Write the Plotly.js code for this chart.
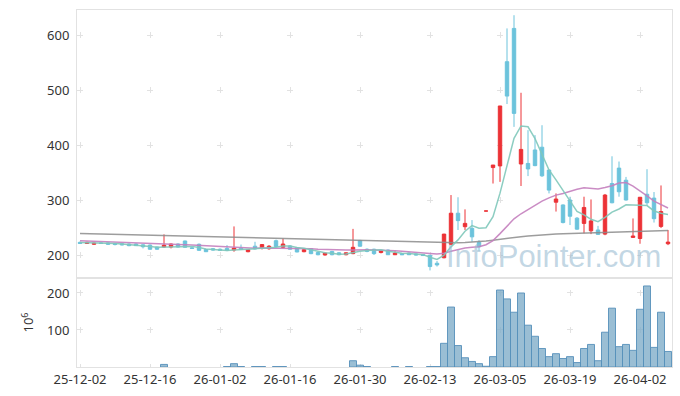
<!DOCTYPE html>
<html>
<head>
<meta charset="utf-8">
<script src="https://cdn.plot.ly/plotly-3.0.1.min.js"></script>
<style>html,body{margin:0;padding:0;background:#fff;}</style>
</head>
<body>
<div id="chart" style="width:680px;height:396px;"></div>
<script>
const dates = [
 '25-12-02','25-12-03','25-12-04','25-12-05','25-12-08','25-12-09','25-12-10','25-12-11','25-12-12','25-12-15',
 '25-12-16','25-12-17','25-12-18','25-12-19','25-12-22','25-12-23','25-12-24','25-12-26','25-12-29','25-12-30',
 '26-01-02','26-01-05','26-01-06','26-01-07','26-01-08','26-01-09','26-01-12','26-01-13','26-01-14','26-01-15',
 '26-01-16','26-01-19','26-01-20','26-01-21','26-01-22','26-01-23','26-01-26','26-01-27','26-01-28','26-01-29',
 '26-01-30','26-02-02','26-02-03','26-02-04','26-02-05','26-02-06','26-02-09','26-02-10','26-02-11','26-02-12',
 '26-02-13','26-02-19','26-02-20','26-02-23','26-02-24','26-02-25','26-02-26','26-02-27','26-03-03','26-03-04',
 '26-03-05','26-03-06','26-03-09','26-03-10','26-03-11','26-03-12','26-03-13','26-03-16','26-03-17','26-03-18',
 '26-03-19','26-03-20','26-03-23','26-03-24','26-03-25','26-03-26','26-03-27','26-03-30','26-03-31','26-04-01',
 '26-04-02','26-04-03','26-04-06','26-04-07','26-04-08'];

const openP = [223,221,219.5,222,222,221,220.5,220,220,218.5,
 218,214.5,214.5,214.5,220,225.5,213,219.5,210,211.5,
 210.5,212,209,212.5,206,216,213,211.5,226,214,
 216.5,213,206,211.5,204.5,200,206.5,204,200.5,202.5,
 226.5,210.5,210.5,204.5,209,200.5,202.5,203.5,202,201,
 199.5,185,195,219.5,276,251.5,248.5,223,280,359,
 362,551.5,612,365.5,366.5,391,396,354.5,296,291,
 300,267,257.5,244,245.5,238,330,358,336,232,
 230,310.5,303.5,252,220.5];
const highP = [224.5,224,222.5,223,223,222,221.5,221,221,219.5,
 219,215,237.5,221,221,226,214,221,211,212.5,
 212,218,252,219,210.5,224,220,218,228,230,
 218,214,210.5,212.5,205.5,204,207.5,205,204.5,247.5,
 227.5,212,211.5,208.5,210,207,203.5,204.5,203,202,
 200.5,189,238.5,309,305,283,263.5,227,280,363.6,
 471,612,636,495,427,418,436,354.5,312,292,
 306,269,306,301,253,311,379.5,370,342,266.5,
 305,356,314.5,326.5,245.5];
const lowP = [220.5,220,218.5,220,218.5,217.5,217.5,216,216.5,212,
 209.5,209.5,213.5,212,214,213.5,211.5,207.5,205.5,208,
 207.5,207,206,209.5,205,210,210,209.5,214,212,
 210,205,205,201.5,199.5,199,199.5,199.5,199.5,201.5,
 215,205,200,203,200,200,200,200,199.5,198.5,
 172,179,194,218.5,245.5,245.5,224,208,280,330,
 333,474.5,433,325.5,343.5,361.5,342,312,279,257.5,
 254.5,246,239.5,238,236.5,236,294,306,299,231.5,
 220.5,291,259,249,218];
const closeP = [221,223,221.5,221,219.5,219,218.5,217,217,215,
 210.5,210.5,218,220,214.5,214,212,208.5,206,209,
 208.5,208.5,212.7,210,209.7,211,219,216,215.5,220,
 210.5,205.5,209.7,202.5,200.5,203.5,200.5,200.5,204,214,
 216,206.5,202.5,208,200.5,203.5,200.5,200.5,200,199,
 179,182,238,276,262.5,257.5,233,215,280,363.6,
 471,489,457.5,392,356.5,362.5,344,318,301.8,259,
 270.5,247,286.5,262,237.5,309,295,315,300,234.5,
 305,295,266,279,223.5];

const ma5 = [222.8,222.6,222.2,221.8,221.2,220.8,219.9,219,218.2,217.3,
 215.6,214,214.2,214.8,214.7,215.4,215.7,213.8,211,209.9,
 208.8,208.1,208.9,209.7,209.9,210.4,212.5,213.1,214.2,216.3,
 216.2,213.5,212.2,209.6,205.7,204.3,203.3,201.5,201.8,204.5,
 207,208.2,208.6,209.4,206.7,204.2,203,202.6,201,200.7,
 195.8,192.1,199.6,214.8,227.5,243.2,253.4,248.8,249.6,269.8,
 312.5,363.7,412.2,434.6,433.2,411.5,382.5,354.6,336.6,317.1,
 298.7,279.3,273,265,260.7,268.4,278,283.7,291.3,290.7,
 289.9,289.9,280.1,275.9,273.7];
const ma20 = [226,225.6,225.2,224.8,224.4,224,223.6,223.1,222.6,222.1,
 221.5,220.9,220.4,219.9,219.3,218.7,218,217.3,216.6,215.8,
 215.2,214.4,214,213.4,212.9,212.5,212.6,212.5,212.4,212.7,
 212.7,212.4,212,211.2,210.5,209.9,209.4,209,208.9,209.1,
 209.5,209.4,208.9,208.8,208.3,207.9,207,206.2,205.5,204.4,
 202.8,201.7,203.1,206.8,209.9,212.6,214.2,214.9,218.7,226.2,
 238.9,253.1,265.8,275,282.8,290.8,297.9,303.8,308.9,311.9,
 316.5,319.7,322.1,321.4,320.2,322.8,325.9,330.9,331.9,325.4,
 317.1,307.4,297.8,292.2,285.5];
const maLong = [239,238.7,238.3,238,237.7,237.3,237,236.7,236.3,236,
 235.7,235.3,235,234.7,234.3,234,233.7,233.3,233,232.7,
 232.3,232,231.7,231.3,231,230.7,230.3,230,229.7,229.3,
 229,228.7,228.3,228,227.7,227.3,227,226.6,226.2,225.8,
 225.5,225.2,224.9,224.6,224.3,224.1,223.9,223.6,223.3,223,
 222.6,222.3,222.1,222.1,222.3,222.7,223.2,224.2,225.5,227,
 228.8,230.5,232,233.3,234.5,235.6,236.6,237.5,238,238.5,
 238.9,239.2,239.5,240,240.5,241,241.3,241.6,242,242.4,
 242.8,243.2,243.6,244,244.4];

const volume = [0,0,0,0,0,0,0,0,0,0,
 0,0,7,0,0,0,0,0,0,0,
 0,1.2,9,1.2,0,1.2,1.2,0,1.2,1.2,
 0,0,0,0,0,0,0,0,0,17,
 5,1.2,0,0,0,1.2,0,1.2,0,0,
 1.2,1.2,64,162,58,25,15,9,2,28,
 208,184,148,200,113,83,50,28,36,23,
 28,12,50,61,17,94,159,55,61,45,
 156,219,53,148,42];

const tickLabels = ['25-12-02','25-12-16','26-01-02','26-01-16','26-01-30','26-02-13','26-03-05','26-03-19','26-04-02'];
const priceTicks = [200,300,400,500,600];
const volTicks = [100,200];

const RED = '#ec3236', BLUE = '#6cc3dc';
const traces = [
 {type:'candlestick', x:dates, open:openP, high:highP, low:lowP, close:closeP,
  xaxis:'x', yaxis:'y', whiskerwidth:0, hoverinfo:'skip',
  increasing:{line:{color:RED,width:1}, fillcolor:RED},
  decreasing:{line:{color:BLUE,width:1}, fillcolor:BLUE}},
 {type:'scatter', mode:'lines', x:dates, y:maLong, xaxis:'x', yaxis:'y', line:{color:'rgba(140,140,140,0.85)', width:1.5}, hoverinfo:'skip'},
 {type:'scatter', mode:'lines', x:dates, y:ma20, xaxis:'x', yaxis:'y', line:{color:'rgba(196,128,190,0.9)', width:1.5}, hoverinfo:'skip'},
 {type:'scatter', mode:'lines', x:dates, y:ma5, xaxis:'x', yaxis:'y', line:{color:'rgba(128,200,186,0.9)', width:1.5}, hoverinfo:'skip'},
 {type:'bar', x:dates, y:volume, xaxis:'x2', yaxis:'y2',
  marker:{color:'rgba(126,172,200,0.78)',
   line:{color:'rgba(86,144,186,0.9)', width:volume.map(v => v > 0 ? 1 : 0)}}, hoverinfo:'skip'}
];

const GRID = '#e2e2e2', LINE = '#e2e2e2';
const xr = [-0.43, 84.57];
const layout = {
 width:680, height:396,
 margin:{l:77, r:8, t:10, b:29},
 paper_bgcolor:'#fff', plot_bgcolor:'#fff',
 showlegend:false, bargap:0,
 font:{family:'Noto Sans, sans-serif', size:13, color:'#333'},
 xaxis:{type:'category', anchor:'y', domain:[0,1], range:xr, rangeslider:{visible:false},
  tickmode:'array', tickvals:tickLabels, showticklabels:false, ticks:'',
  showgrid:true, gridcolor:GRID, griddash:'0px,22px,6px,27px',
  showline:true, mirror:true, linecolor:LINE, zeroline:false},
 yaxis:{anchor:'x', domain:[0.2493,1], range:[158.2,645.5], tickmode:'array', tickvals:priceTicks,
  showgrid:true, gridcolor:GRID, griddash:'6px,64px', ticks:'', ticklabelstandoff:4,
  showline:true, mirror:true, linecolor:LINE, zeroline:false},
 xaxis2:{type:'category', anchor:'y2', domain:[0,1], range:xr,
  tickmode:'array', tickvals:tickLabels, ticktext:tickLabels, ticks:'',
  showgrid:true, gridcolor:GRID, griddash:'0px,12px,6px,19px',
  showline:true, mirror:true, linecolor:LINE, zeroline:false},
 yaxis2:{anchor:'x2', domain:[0,0.2493], range:[0,240.5], tickmode:'array', tickvals:volTicks,
  showgrid:true, gridcolor:GRID, griddash:'6px,64px', ticks:'', ticklabelstandoff:4,
  showline:true, mirror:true, linecolor:LINE, zeroline:false,
  title:{text:'10<sup>6</sup>', font:{size:13, color:'#333'}, standoff:10}},
 annotations:[{text:'InfoPointer.com', xref:'paper', yref:'paper', x:0.80, y:0.31,
  xanchor:'center', yanchor:'middle', showarrow:false,
  font:{family:'Liberation Sans, sans-serif', size:31, color:'rgba(150,185,208,0.58)'}}]
};
Plotly.newPlot('chart', traces, layout, {staticPlot:true, displayModeBar:false});
</script>
</body>
</html>
